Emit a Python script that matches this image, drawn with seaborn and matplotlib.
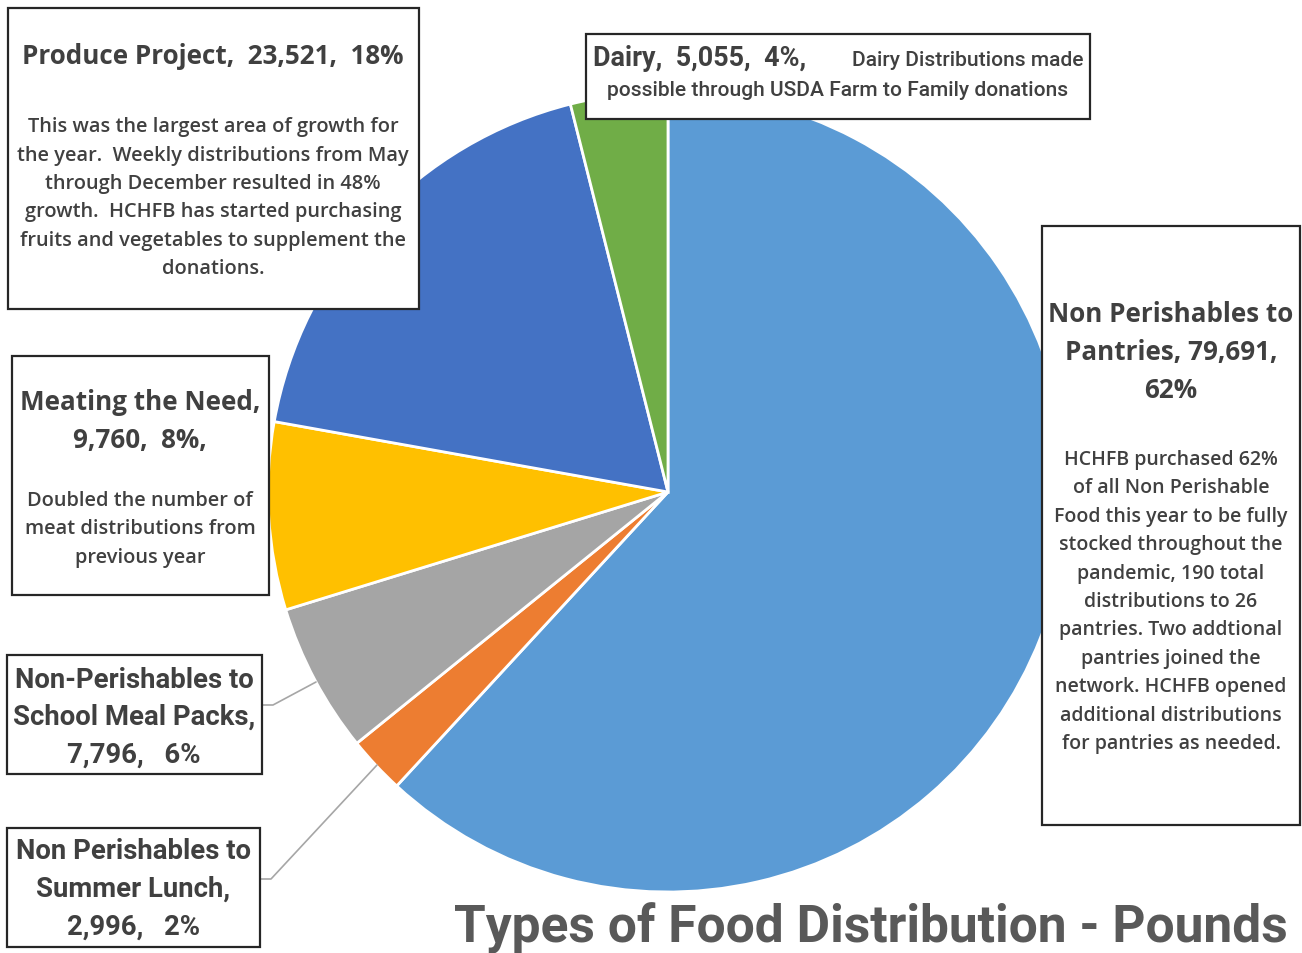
import matplotlib
matplotlib.use("Agg")
from matplotlib import pyplot as plt
from matplotlib.patches import Rectangle
import seaborn as sns

# data
categories = ["Non Perishables to Pantries", "Non Perishables to Summer Lunch",
              "Non-Perishables to School Meal Packs", "Meating the Need",
              "Produce Project", "Dairy"]
pounds = [79691, 2996, 7796, 9760, 23521, 5055]
colors = ["#5B9BD5", "#ED7D31", "#A5A5A5", "#FFC000", "#4472C4", "#70AD47"]
title = "Types of Food Distribution - Pounds"

W, H = 1302, 954
TXT = "#404040"
sns.set_theme(style="white")
plt.rcParams['font.family'] = ['Open Sans', 'DejaVu Sans']


def px(p):
    # pixel size to points
    return p * 72 / 100


def Y(y):
    return H - y


def box(ax, x0, y0, x1, y1):
    ax.add_patch(Rectangle((x0, Y(y1)), x1 - x0, y1 - y0, facecolor="white",
                           edgecolor="#262626", lw=1.6, zorder=5))


def lines(ax, x, y0, step, rows, size, weight="bold", family=None):
    for i, r in enumerate(rows):
        ax.text(x, Y(y0 + i * step), r, ha="center", va="center", color=TXT,
                fontsize=px(size), fontweight=weight, zorder=6,
                family=family or ['Open Sans', 'DejaVu Sans'])


fig = plt.figure(figsize=(W / 100, H / 100), dpi=100)
ax = fig.add_axes([0, 0, 1, 1])
ax.set_xlim(0, W)
ax.set_ylim(0, H)
ax.set_aspect("equal")
ax.axis("off")

ax.pie(pounds, colors=sns.color_palette(colors), startangle=90, counterclock=False,
       center=(668, Y(493)), radius=400,
       wedgeprops=dict(edgecolor="white", linewidth=2))
ax.set_xlim(0, W)
ax.set_ylim(0, H)

# leader lines
ax.plot([263, 273, 316], [Y(706), Y(706), Y(683)], color="#A6A6A6", lw=1.2, zorder=4)
ax.plot([261, 271, 377], [Y(880), Y(880), Y(766)], color="#A6A6A6", lw=1.2, zorder=4)

cond = ['Roboto', 'DejaVu Sans']

# Produce
box(ax, 8, 9, 419, 310)
lines(ax, 213, 57, 0, ["Produce Project,  23,521,  18%"], 26)
lines(ax, 213, 127, 28.5, ["This was the largest area of growth for",
                            "the year.  Weekly distributions from May",
                            "through December resulted in 48%",
                            "growth.  HCHFB has started purchasing",
                            "fruits and vegetables to supplement the",
                            "donations."], 20, weight="semibold")

# Dairy
box(ax, 586, 35, 1090, 120)
ax.text(593, Y(59), "Dairy,  5,055,  4%,", ha="left", va="center", color=TXT,
        fontsize=px(27), fontweight="bold", zorder=6, family=cond)
ax.text(1083, Y(60), "Dairy Distributions made", ha="right", va="center", color=TXT,
        fontsize=px(21), fontweight="medium", zorder=6, family=cond)
lines(ax, 838, 90, 0, ["possible through USDA Farm to Family donations"], 21,
      weight="medium", family=cond)

# Meating the Need
box(ax, 12, 357, 269, 596)
lines(ax, 140, 403, 37.5, ["Meating the Need,", "9,760,  8%,"], 26)
lines(ax, 140, 501, 28.5, ["Doubled the number of",
                            "meat distributions from",
                            "previous year"], 20, weight="semibold")

# School meal packs
box(ax, 7, 656, 262, 775)
lines(ax, 134, 680, 37.5, ["Non-Perishables to", "School Meal Packs,", "7,796,   6%"], 27.5, family=cond)

# Summer lunch
box(ax, 7, 829, 260, 948)
lines(ax, 133, 852, 37.5, ["Non Perishables to", "Summer Lunch,", "2,996,   2%"], 27.5, family=cond)

# Pantries
box(ax, 1042, 227, 1300, 826)
lines(ax, 1171, 315, 37.5, ["Non Perishables to", "Pantries, 79,691,", "62%"], 26)
lines(ax, 1171, 460, 28.4, ["HCHFB purchased 62%",
                             "of all Non Perishable",
                             "Food this year to be fully",
                             "stocked throughout the",
                             "pandemic, 190 total",
                             "distributions to 26",
                             "pantries. Two addtional",
                             "pantries joined the",
                             "network. HCHFB opened",
                             "additional distributions",
                             "for pantries as needed."], 19.5, weight="semibold")

ax.text(454, Y(928), title, ha="left", va="center", color="#595959",
        fontsize=px(51.5), fontweight="bold", zorder=6, family=cond)

fig.savefig("out.png", dpi=100)
